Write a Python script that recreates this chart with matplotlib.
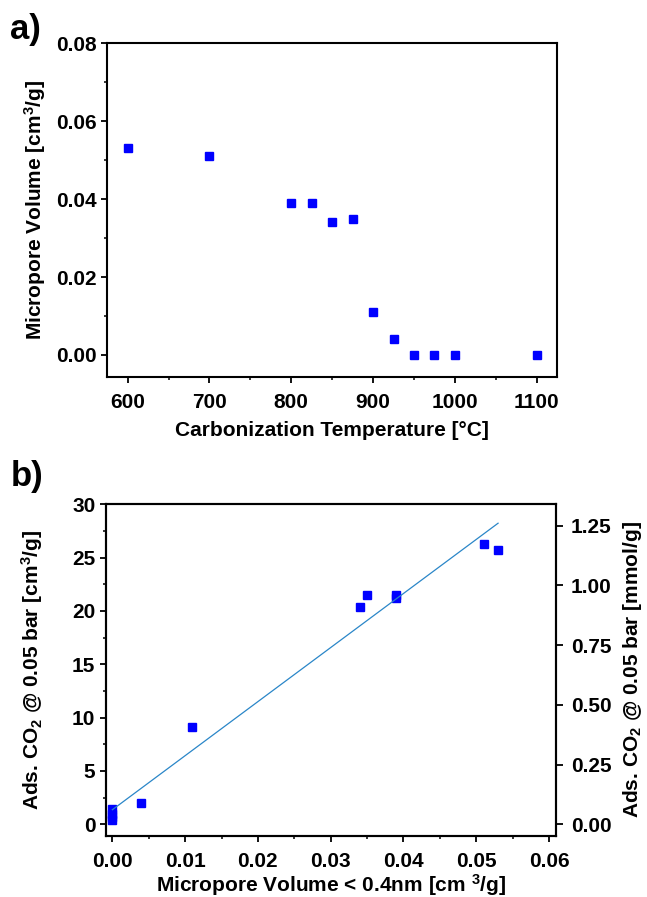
import numpy as np
import matplotlib
matplotlib.use("Agg")
import matplotlib.pyplot as plt
from matplotlib.ticker import MultipleLocator

## data
# a) micropore volume vs carbonization temperature
temps = [600, 700, 800, 825, 850, 875, 900, 925, 950, 975, 1000, 1100]
vmicro = [0.053, 0.051, 0.039, 0.039, 0.034, 0.035, 0.011, 0.004, 0.0, 0.0, 0.0, 0.0]
# b) CO2 uptake at 0.05 bar vs micropore volume < 0.4 nm
vsub04 = [0.053, 0.051, 0.039, 0.039, 0.034, 0.035, 0.011, 0.004, 0.0, 0.0, 0.0, 0.0]
co2_ads = [25.7, 26.3, 21.5, 21.2, 20.4, 21.5, 9.1, 2.0, 1.4, 1.0, 0.7, 0.4]
molar_vol = 22.4  # cm3(STP) per mmol

plt.rcParams.update({
    "font.family": ["Liberation Sans", "DejaVu Sans"],
    "font.weight": "bold",
    "axes.labelweight": "bold",
    "mathtext.fontset": "custom",
    "mathtext.rm": "Liberation Sans:bold",
    "mathtext.it": "Liberation Sans:bold",
    "mathtext.bf": "Liberation Sans:bold",
    "axes.linewidth": 1.5,
})

fig = plt.figure(figsize=(6.47, 8.97), dpi=100)

TICK_FS = 15
LABEL_FS = 15


def style(ax):
    ax.tick_params(which="major", direction="out", length=4.5, width=1.3,
                   labelsize=TICK_FS, pad=3)
    ax.tick_params(which="minor", direction="out", length=2.2, width=1.1)
    ax.tick_params(axis="x", which="major", pad=7)
    ax.tick_params(top=False, right=False, which="both")


## Panel a
ax1 = fig.add_axes([0.1649, 0.58, 0.6955, 0.3717])
ax1.plot(temps, vmicro, "s", color="#0000ff", ms=6, mec="#0000ff")
ax1.set_xlim(574.3, 1124.5)
ax1.set_ylim(-0.0056, 0.08)
ax1.xaxis.set_major_locator(MultipleLocator(100))
ax1.xaxis.set_minor_locator(MultipleLocator(50))
ax1.yaxis.set_major_locator(MultipleLocator(0.02))
ax1.yaxis.set_minor_locator(MultipleLocator(0.01))
ax1.yaxis.set_major_formatter(lambda v, p: f"{v:.2f}")
style(ax1)
ax1.set_xlabel("Carbonization Temperature [°C]", fontsize=LABEL_FS, labelpad=7)
ax1.set_ylabel("Micropore Volume [cm$^{3}$/g]", fontsize=LABEL_FS)
ax1.yaxis.set_label_coords(-0.130, 0.5)
fig.text(0.016, 0.956, "a)", fontsize=25, fontweight="bold", va="baseline")

## Panel b
ax2 = fig.add_axes([0.1634, 0.0683, 0.6955, 0.3695])
ax2.plot(vsub04, co2_ads, "s", color="#0000ff", ms=6, mec="#0000ff")
slope, icpt = np.polyfit(vsub04, co2_ads, 1)
xfit = np.array([min(vsub04), max(vsub04)])
ax2.plot(xfit, slope * xfit + icpt, "-", color="#2a86c8", lw=0.9)
ax2.set_xlim(-0.00091, 0.06092)
ax2.set_ylim(-1.07, 30)
ax2.xaxis.set_major_locator(MultipleLocator(0.01))
ax2.xaxis.set_minor_locator(MultipleLocator(0.005))
ax2.xaxis.set_major_formatter(lambda v, p: f"{v:.2f}")
ax2.yaxis.set_major_locator(MultipleLocator(5))
ax2.yaxis.set_minor_locator(MultipleLocator(2.5))
style(ax2)
ax2.set_xlabel("Micropore Volume < 0.4nm [cm $^{3}$/g]", fontsize=LABEL_FS, labelpad=1)
ax2.set_ylabel("Ads. CO$_{2}$ @ 0.05 bar [cm$^{3}$/g]", fontsize=LABEL_FS)
ax2.yaxis.set_label_coords(-0.135, 0.5)

ax3 = ax2.twinx()
lo, hi = ax2.get_ylim()
ax3.set_ylim(lo / molar_vol, hi / molar_vol)
ax3.yaxis.set_major_locator(MultipleLocator(0.25))
ax3.yaxis.set_major_formatter(lambda v, p: f"{v:.2f}")
ax3.tick_params(which="major", direction="out", length=5, width=1.3,
                labelsize=TICK_FS, pad=6)
ax3.set_ylabel("Ads. CO$_{2}$ @ 0.05 bar [mmol/g]", fontsize=LABEL_FS)
ax3.yaxis.set_label_coords(1.145, 0.5)
fig.text(0.016, 0.458, "b)", fontsize=25, fontweight="bold", va="baseline")

fig.savefig("out.png", dpi=100)
